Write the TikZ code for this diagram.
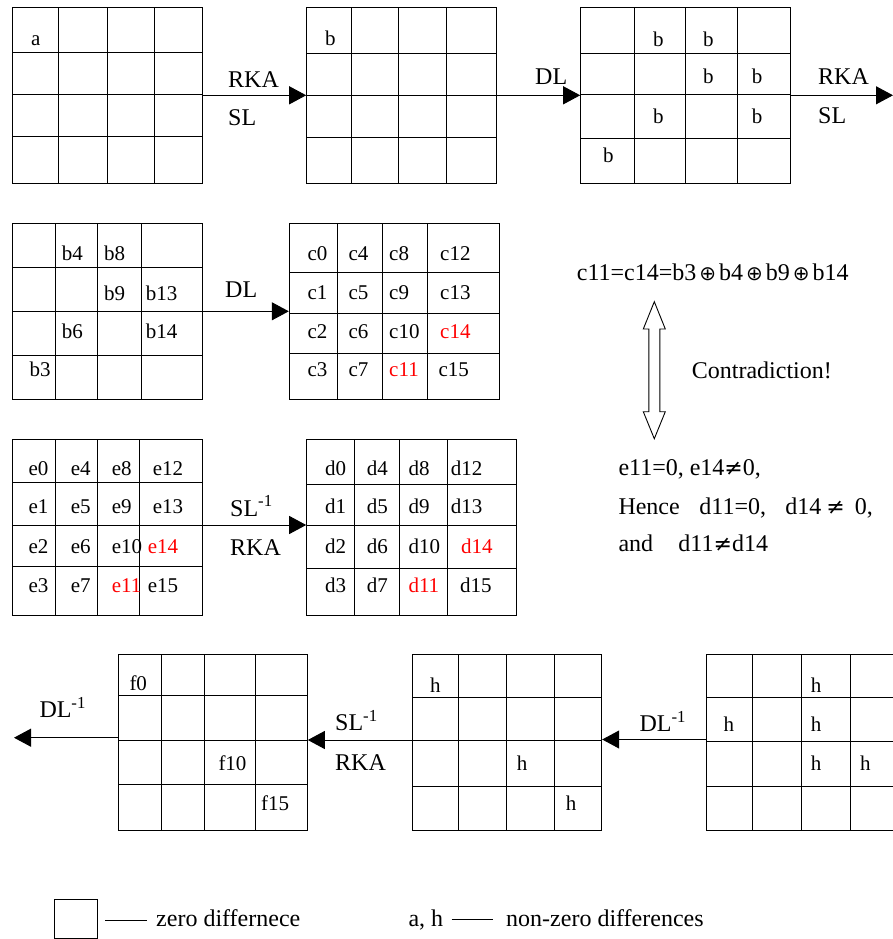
\documentclass[tikz,border=0pt]{standalone}
\usepackage{fontspec}
\setmainfont{Liberation Serif}
\newfontfamily\symf{DejaVu Sans}
\usetikzlibrary{arrows.meta,fit}
\newcounter{lblno}
\newcommand\mkgrid[7]{%
  \node[gframe, fit={(#2,#4) (#3,#5)}] (#1) {};
  \foreach \xx in {#6} {\draw[gline] (\xx,#4) -- (\xx,#5);}
  \foreach \yy in {#7} {\draw[gline] (#2,\yy) -- (#3,\yy);}
}
\newcommand\cl[3]{\stepcounter{lblno}\node[cell] (lb\thelblno) at (#1,#2) {#3};}
\newcommand\rd[1]{\textcolor{red}{#1}}
\newcommand\xo{\kern3pt{\symf\fontsize{20}{20}\selectfont ⊕}\kern3pt}
\newcommand\nq{{\symf\fontsize{22}{22}\selectfont ≠}}
\begin{document}
\begin{tikzpicture}[x=1pt,y=-1pt,
  gframe/.style={draw=black, line width=1pt, inner sep=0pt},
  gline/.style={draw=black, line width=1pt},
  cell/.style={anchor=base west, inner sep=0pt, font=\fontsize{21}{21}\selectfont},
  oplab/.style={anchor=base west, inner sep=0pt, font=\fontsize{24}{24}\selectfont},
  arr/.style={line width=1pt, -{Triangle[length=17pt,width=18pt]}}]
\useasboundingbox (0,0) rectangle (893,939);
% grids
\mkgrid{g1}{12.7}{202}{7.3}{183.3}{58.3,107.3,154}{52.3,95,136.7}
\mkgrid{g2}{306.7}{496}{7.3}{183.3}{351.7,398.7,446.5}{54,95.7,137.7}
\mkgrid{g3}{580.7}{790.7}{7.3}{183.3}{634.3,685.7,737}{53.3,95,138.3}
\mkgrid{g4}{12.7}{202}{223.3}{399.3}{55,97,141.7}{267.7,311.3,355.7}
\mkgrid{g5}{289.3}{499}{223.3}{399.3}{337.7,382,427.3}{272.7,313.3,353.3}
\mkgrid{g6}{12.7}{202}{439}{615}{55,97,139.3}{482.7,525,566.7}
\mkgrid{g7}{306.7}{516.7}{439}{615}{354,399.3,447.3}{484.3,525.7,568.3}
\mkgrid{g8}{118.3}{307.3}{654.3}{830.7}{161.7,204.3,255}{695,740,784}
\mkgrid{g9}{412.3}{601.7}{654.3}{830.7}{458.3,506,554}{697.3,740.7,786.7}
\mkgrid{g10}{706.7}{897}{654.3}{830.7}{752.3,801.7,850}{697.3,741,786.7}
% free arrow ends
\coordinate (t1) at (893,95.3);
\coordinate (t2) at (14,737.7);
% arrows
\draw[arr] (g1.east) -- (g2.west);
\draw[arr] (g2.east) -- (g3.west);
\draw[arr] (g3.east) -- (t1);
\draw[arr] (g4.east) -- (g5.west);
\draw[arr] ([yshift=2pt]g6.east) -- ([yshift=2pt]g7.west);
\draw[arr] ([yshift=3pt]g10.west) -- ([yshift=3pt]g9.east);
\draw[arr] ([yshift=2.5pt]g9.west) -- ([yshift=2.5pt]g8.east);
\draw[arr] ([yshift=4.8pt]g8.west) -- (t2);
% operation labels
\node[oplab] (o1) at (228,87.3) {RKA};
\node[oplab] (o2) at (228,126) {SL};
\node[oplab] (o3) at (535,85) {DL};
\node[oplab] (o4) at (818,85) {RKA};
\node[oplab] (o5) at (818,124) {SL};
\node[oplab] (o6) at (225,297.7) {DL};
\node[oplab] (o7) at (230,516) {SL\textsuperscript{-1}};
\node[oplab] (o8) at (230,555) {RKA};
\node[oplab] (o9) at (39.3,717.7) {DL\textsuperscript{-1}};
\node[oplab] (o10) at (335,730.7) {SL\textsuperscript{-1}};
\node[oplab] (o11) at (335,770) {RKA};
\node[oplab] (o12) at (639.3,731.7) {DL\textsuperscript{-1}};
% cell labels
\cl{31}{45.7}{a}
\cl{325}{45.7}{b}
\cl{653}{46.7}{b}\cl{703}{46.7}{b}
\cl{703}{83.3}{b}\cl{751.7}{83.3}{b}
\cl{653}{124}{b}\cl{751.7}{124}{b}
\cl{603}{162.7}{b}
\cl{61.7}{260}{b4}\cl{104}{260}{b8}
\cl{104}{300}{b9}\cl{145.7}{300}{b13}
\cl{61.7}{338.3}{b6}\cl{145.7}{338.3}{b14}
\cl{29.3}{376.7}{b3}
\cl{307.3}{260}{c0}\cl{348.3}{260}{c4}\cl{389}{260}{c8}\cl{440}{260}{c12}
\cl{307.3}{299.3}{c1}\cl{348.3}{299.3}{c5}\cl{389}{299.3}{c9}\cl{440}{299.3}{c13}
\cl{307.3}{338.3}{c2}\cl{348.3}{338.3}{c6}\cl{389}{338.3}{c10}\cl{440}{338.3}{\rd{c14}}
\cl{307.3}{376.7}{c3}\cl{348.3}{376.7}{c7}\cl{389}{376.7}{\rd{c11}}\cl{438.3}{376.7}{c15}
\cl{28.3}{475.7}{e0}\cl{70.7}{475.7}{e4}\cl{111.7}{475.7}{e8}\cl{152.7}{475.7}{e12}
\cl{28.3}{513.3}{e1}\cl{70.7}{513.3}{e5}\cl{111.7}{513.3}{e9}\cl{152.7}{513.3}{e13}
\cl{28.3}{553.3}{e2}\cl{70.7}{553.3}{e6}\cl{111.7}{553.3}{e10}\cl{147.7}{553.3}{\rd{e14}}
\cl{28.3}{592.3}{e3}\cl{70.7}{592.3}{e7}\cl{111.7}{592.3}{\rd{e11}}\cl{147.7}{592.3}{e15}
\cl{325}{475.7}{d0}\cl{366.7}{475.7}{d4}\cl{408.3}{475.7}{d8}\cl{450.7}{475.7}{d12}
\cl{325}{513.3}{d1}\cl{366.7}{513.3}{d5}\cl{408.3}{513.3}{d9}\cl{450.7}{513.3}{d13}
\cl{325}{553.3}{d2}\cl{366.7}{553.3}{d6}\cl{408.3}{553.3}{d10}\cl{461}{553.3}{\rd{d14}}
\cl{325}{592.3}{d3}\cl{366.7}{592.3}{d7}\cl{408.3}{592.3}{\rd{d11}}\cl{460}{592.3}{d15}
\cl{129.3}{690}{f0}\cl{218.3}{770}{f10}\cl{261}{810}{f15}
\cl{430}{692.7}{h}\cl{516.7}{770.7}{h}\cl{565.7}{810}{h}
\cl{810.7}{692.7}{h}\cl{723.3}{731.7}{h}\cl{810.7}{731.7}{h}
\cl{810.7}{770.7}{h}\cl{860}{770.7}{h}
% reasoning text
\node[oplab] (eq) at (576.7,280) {c11=c14=b3\xo b4\xo b9\xo b14};
\draw[line width=0.9pt] (654.3,301.7) -- (665.3,329) -- (659.8,329) -- (659.8,411.7)
  -- (665.3,411.7) -- (654.3,438.7) -- (643.3,411.7) -- (648.8,411.7)
  -- (648.8,329) -- (643.3,329) -- cycle;
\node[oplab] (ct) at (691.7,378.3) {Contradiction!};
\node[oplab] (t1l) at (618.3,475.7) {e11=0, e14\nq0,};
\node[oplab] (t2l) at (618.3,514) {Hence\hspace{19.7pt}d11=0,\hspace{19.2pt}d14\hspace{5pt}\nq\hspace{10pt}0,};
\node[oplab] (t3l) at (618.3,551.7) {and\hspace{25.3pt}d11\nq d14};
% legend
\node[gframe, fit={(54.3,899) (97.3,938.3)}] (lgbox) {};
\draw[line width=1pt] (105,920) -- (146.7,920);
\node[oplab] (lg1) at (156,926.7) {zero differnece};
\node[oplab] (lg2) at (408.3,926.7) {a, h};
\draw[line width=1pt] (451.7,919) -- (493.3,919);
\node[oplab] (lg3) at (506,926.7) {non-zero differences};
\end{tikzpicture}
\end{document}
